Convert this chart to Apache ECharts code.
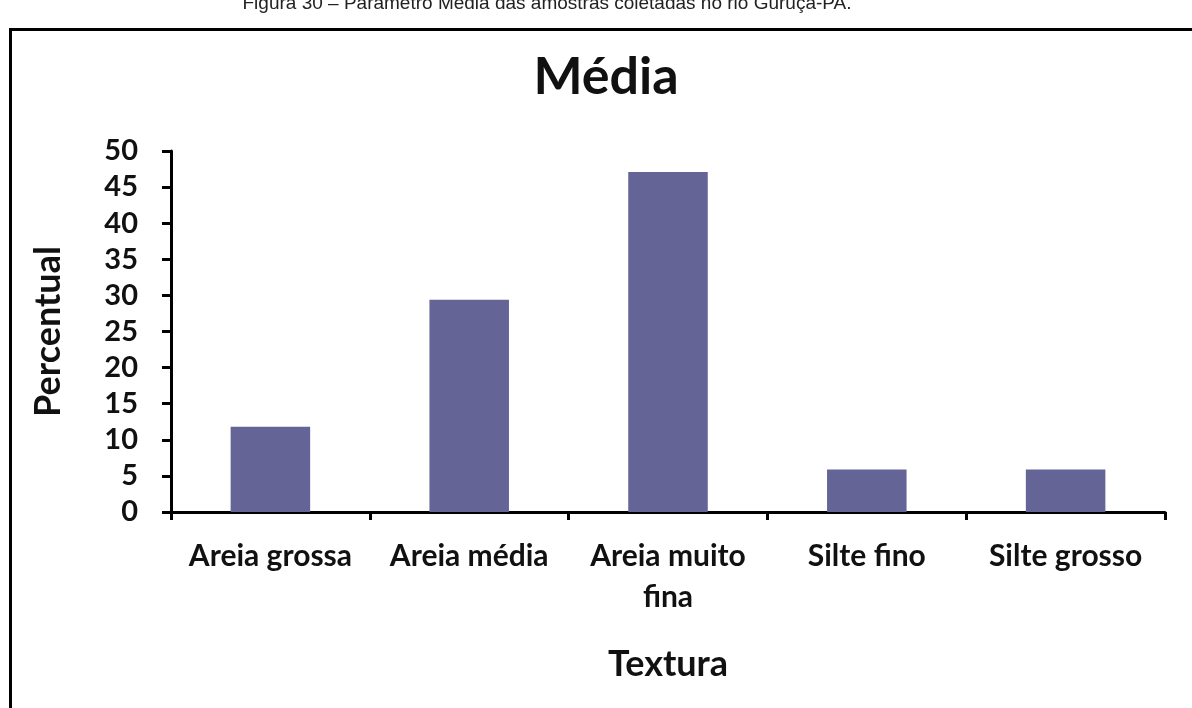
<!DOCTYPE html>
<html>
<head>
<meta charset="utf-8">
<script src="https://cdn.jsdelivr.net/npm/echarts@6/dist/echarts.min.js"></script>
<style>html,body{margin:0;padding:0;background:#fff}#c{width:1192px;height:708px}</style>
</head>
<body>
<div id="c"></div>
<script>
const categories = ['Areia grossa', 'Areia média', 'Areia muito\nfina', 'Silte fino', 'Silte grosso'];
const values = [11.8, 29.4, 47.1, 5.9, 5.9];
const yTicks = [0, 5, 10, 15, 20, 25, 30, 35, 40, 45, 50];

const F = 'Lato, "Open Sans", sans-serif';
const chart = echarts.init(document.getElementById('c'));
chart.setOption({
  backgroundColor: '#ffffff',
  animation: false,
  title: [
    { text: 'Média', left: 601, top: 46, textAlign: 'center',
      textStyle: { fontFamily: F, fontWeight: 'bold', fontSize: 52, color: '#111' } },
    { text: 'Figura 30 – Parâmetro Média das amostras coletadas no rio Guruçá-PA.', left: 542, top: -11, textAlign: 'center',
      textStyle: { fontFamily: '"Liberation Sans", Arial, sans-serif', fontWeight: 'normal', fontSize: 19, color: '#222' } }
  ],
  graphic: [
    { type: 'rect', left: 8, top: 27, shape: { width: 1200, height: 700 },
      style: { fill: 'none', stroke: '#000', lineWidth: 3 }, z: 100 }
  ],
  grid: { left: 171, right: 27, top: 151, bottom: 196 },
  xAxis: {
    type: 'category', data: categories,
    name: 'Textura', nameLocation: 'middle', nameGap: 134,
    nameTextStyle: { fontFamily: F, fontWeight: 'bold', fontSize: 36, color: '#111' },
    axisLine: { lineStyle: { color: '#000', width: 3 } },
    axisTick: { show: true, length: 8, lineStyle: { color: '#000', width: 3 }, alignWithLabel: false },
    axisLabel: { fontFamily: F, fontWeight: 'bold', fontSize: 30, color: '#111', margin: 24, lineHeight: 41, interval: 0 }
  },
  yAxis: {
    type: 'value', min: 0, max: 50, interval: 5,
    name: 'Percentual', nameLocation: 'middle', nameGap: 105, nameRotate: 90,
    nameTextStyle: { fontFamily: F, fontWeight: 'bold', fontSize: 36, color: '#111' },
    axisLine: { show: true, lineStyle: { color: '#000', width: 3 } },
    axisTick: { show: true, length: 9, lineStyle: { color: '#000', width: 3 } },
    splitLine: { show: false },
    axisLabel: { fontFamily: F, fontWeight: 'bold', fontSize: 29, color: '#111', margin: 33,
      formatter: v => yTicks.includes(v) ? String(v) : '' }
  },
  series: [{
    type: 'bar', data: values, barWidth: '40%',
    itemStyle: { color: '#646497' }
  }]
});
</script>
</body>
</html>
